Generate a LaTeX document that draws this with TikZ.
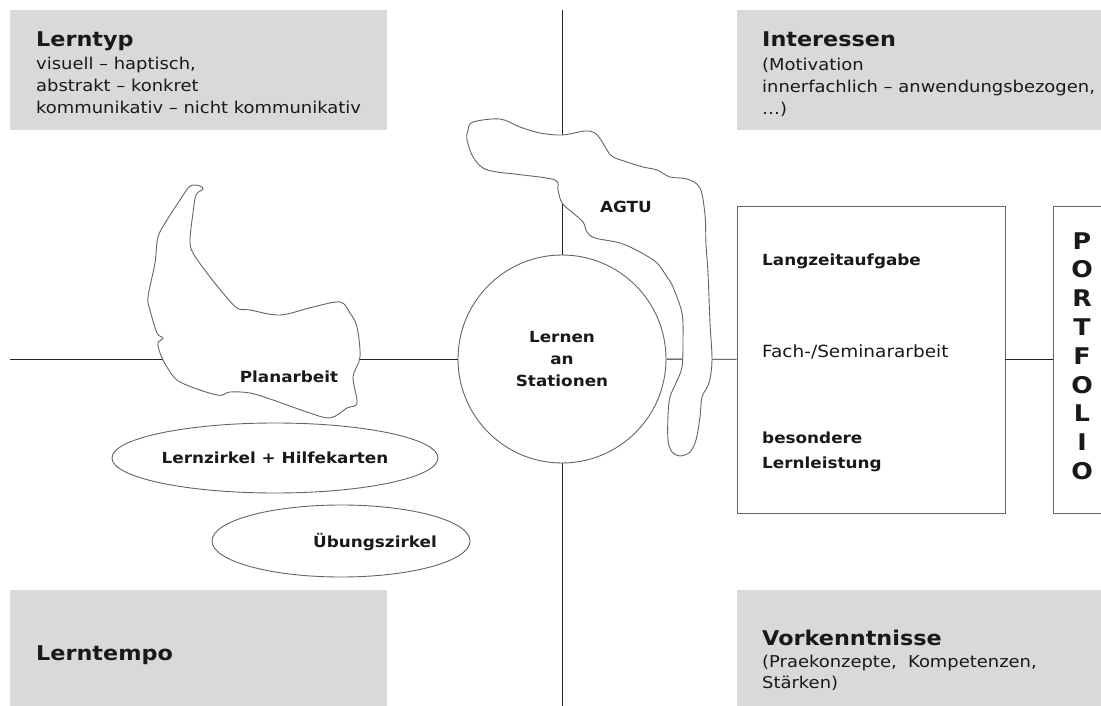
\documentclass[tikz,border=0pt]{standalone}
\usepackage{fontspec}
\setmainfont{DejaVu Sans}[FakeStretch=1.1]
\usepackage{xcolor}
\usepackage{tikz}
\usetikzlibrary{shapes.geometric}
\usetikzlibrary{positioning}
\definecolor{boxgray}{RGB}{217,217,217}
\definecolor{inkcol}{RGB}{25,25,25}
\definecolor{linecol}{RGB}{35,35,35}
\definecolor{rimcol}{RGB}{100,100,100}
\newcommand{\titlefont}{\fontsize{20.3}{22}\selectfont\bfseries}
\newcommand{\bodyfont}{\fontsize{16.3}{22}\selectfont}
\newcommand{\labelfont}{\fontsize{15.3}{22}\selectfont\bfseries}
\newcommand{\pffont}{\fontsize{23}{28.8}\selectfont\bfseries}
\tikzstyle{greybox} = [fill=boxgray, inner sep=0pt, anchor=north west]
\tikzstyle{boxtitle} = [text=inkcol, anchor=base west, inner sep=0pt, font=\titlefont]
\tikzstyle{boxtext} = [text=inkcol, align=left, anchor=north west,
inner sep=0pt, font=\bodyfont]
\tikzstyle{outline} = [draw=rimcol, fill=white, line width=0.9pt]
\tikzstyle{axisline} = [draw=linecol, line width=0.9pt]
\tikzstyle{lbl} = [text=inkcol, font=\labelfont, inner sep=0pt]

\begin{document}
\begin{tikzpicture}[x=1pt, y=-1pt]
        \clip (0,0) rectangle (1101,706);
        \fill[white] (0,0) rectangle (1101,706);
        % grey corner boxes
        \node[greybox, minimum width=377pt, minimum height=120pt] (typbox) at (10,10) {};
        \node[greybox, minimum width=380pt, minimum height=120pt] (intbox) at (737,10) {};
        \node[greybox, minimum width=377pt, minimum height=130pt] (tempobox) at (10,590) {};
        \node[greybox, minimum width=380pt, minimum height=130pt] (vorbox) at (737,590) {};
        \node[boxtitle] (typtitle) at (36,47) {Lerntyp};
        \node[boxtext] (typtext) at (36,56.6) {visuell – haptisch,\\abstrakt – konkret\\kommunikativ – nicht kommunikativ};
        \node[boxtitle] (inttitle) at (762,47) {Interessen};
        \node[boxtext] (inttext) at (762,57.6) {(Motivation\\innerfachlich – anwendungsbezogen,\\…)};
        \node[boxtitle] (tempotitle) at (36,660) {Lerntempo};
        \node[boxtitle] (vortitle) at (762,645) {Vorkenntnisse};
        \node[boxtext, font=\fontsize{16.3}{21}\selectfont] (vortext) at (762,654.6) {(Praekonzepte,\ \ Kompetenzen,\\Stärken)};
        % centre and right column
        \node[circle, outline, minimum size=208pt, inner sep=0pt, align=center,
            font=\labelfont, text=inkcol] (stat) at (562,359) {Lernen\\an\\Stationen};
        \node[outline, minimum width=268pt, minimum height=307pt] (lzbox) at (871,359.5) {};
        \node[outline, minimum width=80pt, minimum height=307pt, anchor=west] (pfbox) at (1053,359.5) {};
        \node[lbl, align=center, font=\pffont] (pftext) at (1082,356) {P\\O\\R\\T\\F\\O\\L\\I\\O};
        \node[lbl, anchor=base west] (langz) at (762,265) {Langzeitaufgabe};
        \node[lbl, anchor=base west, font=\fontsize{16.8}{22}\selectfont] (fach) at (762,357) {Fach-/Seminararbeit};
        \node[lbl, anchor=north west, align=left,
            font=\fontsize{15.3}{25}\selectfont\bfseries] (bll) at (762,431.4) {besondere\\Lernleistung};
        % axes
        \coordinate (vtop) at (562,10);
        \coordinate (vbot) at (562,706);
        \coordinate (hleft) at (10,359);
        \draw[axisline] (vtop) -- (stat);
        \draw[axisline] (stat) -- (vbot);
        \draw[axisline] (hleft) -- (stat);
        \draw[axisline] (stat) -- (lzbox);
        \draw[axisline] (lzbox) -- (pfbox);
        % blobs
        \draw[outline] plot[smooth cycle, tension=0.55] coordinates {
            (193,185) (200,186) (203,189) (196,195) (193,213) (190,240) (193,253)
            (207,273) (223,293) (237,308) (250,310) (280,315) (313,307) (340,302)
            (350,313) (357,327) (360,357) (353,377) (357,403) (347,408) (330,418)
            (307,412) (273,400) (250,393) (230,392) (217,395) (180,382) (167,367)
            (160,353) (158,343) (163,338) (157,333) (150,310) (148,297) (155,263)
            (158,237) (167,220) (180,200) (188,188)};
        \draw[outline] plot[smooth cycle, tension=0.55] coordinates {
            (468,130) (473,122) (500,119) (520,127) (540,133) (562,135) (585,131)
            (595,133) (601,140) (607,150) (613,157) (627,162) (643,167) (657,170)
            (670,177) (687,179) (700,188) (705,215) (706,245) (708,273) (710,323)
            (712,360) (709,383) (702,397) (700,417) (696,440) (690,452) (680,456)
            (672,452) (668,440) (668,415) (670,397) (676,383) (682,367) (683,340)
            (682,313) (673,287) (667,277) (657,263) (640,252) (620,243) (595,238)
            (587,232) (583,222) (573,213) (562,203) (558,190) (555,180) (523,175)
            (497,172) (483,168) (473,157) (467,140)};
        \node[lbl] (plan) at (289,377) {Planarbeit};
        \node[lbl] (agtu) at (626,207) {AGTU};
        % ellipses
        \node[ellipse, outline, inner sep=0pt, minimum width=326pt, minimum height=70pt,
            font=\labelfont, text=inkcol] (lzirkel) at (275,458) {Lernzirkel + Hilfekarten};
        \node[ellipse, outline, minimum width=258pt, minimum height=72pt] (uebell) at (341,541) {};
        \node[lbl] (uebtext) at (375,542) {Übungszirkel};
    \end{tikzpicture}
\end{document}
